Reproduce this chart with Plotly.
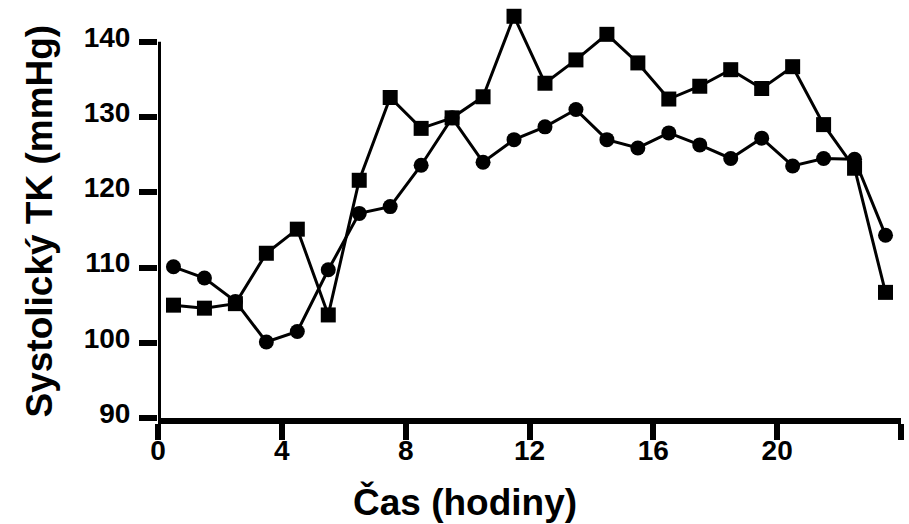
import plotly.graph_objects as go

# Hourly means of systolic blood pressure, plotted at mid-hour
hours = [0.5, 1.5, 2.5, 3.5, 4.5, 5.5, 6.5, 7.5, 8.5, 9.5, 10.5, 11.5,
         12.5, 13.5, 14.5, 15.5, 16.5, 17.5, 18.5, 19.5, 20.5, 21.5, 22.5, 23.5]

tk_squares = [105.0, 104.6, 105.2, 111.9, 115.1, 103.7, 121.6, 132.6, 128.5, 129.9,
              132.7, 143.4, 134.5, 137.6, 141.0, 137.2, 132.4, 134.1, 136.3, 133.8,
              136.7, 129.0, 123.2, 106.7]

tk_circles = [110.1, 108.6, 105.5, 100.1, 101.5, 109.7, 117.2, 118.1, 123.6, 129.9,
              124.0, 127.0, 128.7, 131.0, 127.0, 125.9, 127.9, 126.3, 124.5, 127.2,
              123.5, 124.5, 124.4, 114.3]

x_tickvals = [0, 4, 8, 12, 16, 20, 24]
x_ticktext = ["0", "4", "8", "12", "16", "20", ""]
y_tickvals = [90, 100, 110, 120, 130, 140]

FONT = "Liberation Sans, Arial, Helvetica, sans-serif"

fig = go.Figure()

fig.add_trace(go.Scatter(
    x=hours, y=tk_circles, mode="lines+markers",
    line=dict(color="black", width=3),
    marker=dict(symbol="circle", size=15, color="black"),
    cliponaxis=False, showlegend=False,
))
fig.add_trace(go.Scatter(
    x=hours, y=tk_squares, mode="lines+markers",
    line=dict(color="black", width=3),
    marker=dict(symbol="square", size=15, color="black"),
    cliponaxis=False, showlegend=False,
))

# vertical axis line stops at the top labelled tick
fig.add_shape(type="line", xref="x", yref="y", x0=0, x1=0, y0=89.6, y1=140,
              line=dict(color="black", width=6))

fig.update_xaxes(
    range=[0, 24], tickvals=x_tickvals, ticktext=x_ticktext,
    showline=True, linecolor="black", linewidth=6,
    ticks="outside", ticklen=16, tickwidth=6, tickcolor="black",
    tickfont=dict(family=FONT, size=28, color="black", weight="bold"),
    ticklabelstandoff=-14,
    showgrid=False, zeroline=False,
)
fig.update_yaxes(
    range=[90, 144.5], tickvals=y_tickvals,
    showline=False,
    ticks="outside", ticklen=18, tickwidth=6, tickcolor="black",
    tickfont=dict(family=FONT, size=28, color="black", weight="bold"),
    ticklabelstandoff=3, ticklabelshift=-5,
    showgrid=False, zeroline=False,
)

fig.add_annotation(
    text="Čas (hodiny)", xref="paper", yref="paper",
    x=(464.5 - 158) / 743, y=-(502 - 418) / 410,
    xanchor="center", yanchor="middle", showarrow=False,
    font=dict(family=FONT, size=37, color="black", weight="bold"),
)
fig.add_annotation(
    text="Systolický TK (mmHg)", xref="paper", yref="paper",
    x=-(158 - 39) / 743, y=(418 - 221.5) / 410,
    xanchor="center", yanchor="middle", showarrow=False, textangle=-90,
    font=dict(family=FONT, size=37, color="black", weight="bold"),
)

fig.update_layout(
    width=909, height=524,
    margin=dict(l=158, r=8, t=8, b=106),
    paper_bgcolor="white", plot_bgcolor="white",
)

fig.write_html("out.html")
